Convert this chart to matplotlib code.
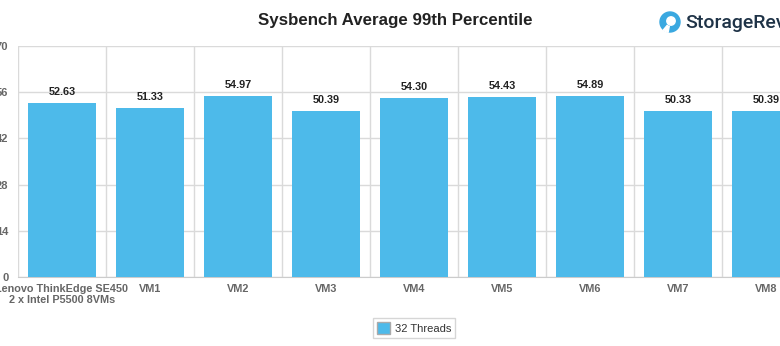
import matplotlib
matplotlib.use("Agg")
import matplotlib.pyplot as plt
import numpy as np
from matplotlib.patches import Circle, Patch, Wedge

plt.rcParams['font.family'] = ['Liberation Sans', 'DejaVu Sans']

categories = ["Lenovo ThinkEdge SE450\n2 x Intel P5500 8VMs", "VM1", "VM2", "VM3", "VM4",
              "VM5", "VM6", "VM7", "VM8"]
values = [52.63, 51.33, 54.97, 50.39, 54.30, 54.43, 54.89, 50.33, 50.39]
yticks = [0, 14, 28, 42, 56, 70]
series_name = "32 Threads"
title = "Sysbench Average 99th Percentile"

bar_color = "#4DBAEA"
grid_color = "#DADADA"
tick_color = "#666666"

fig = plt.figure(figsize=(7.8, 3.46), dpi=100)
ax = fig.add_axes([18/780, 69/346, 792/780, 231/346])

x = np.arange(len(categories))
ax.bar(x, values, width=0.77, color=bar_color, zorder=3)
for xi, v in zip(x, values):
    ax.text(xi, v + 1.8, f"{v:.2f}", ha="center", va="bottom", fontsize=7.8,
            fontweight="bold", color="#222222", zorder=4)

ax.set_xlim(-0.5, len(categories) - 0.5)
ax.set_ylim(0, 70)
ax.set_yticks(yticks)
ax.set_yticklabels([str(t) for t in yticks])
ax.set_xticks(x)
ax.set_xticklabels(categories, linespacing=1.1)
ax.set_xticks(np.arange(len(categories) + 1) - 0.5, minor=True)
ax.grid(axis="y", color=grid_color, linewidth=1, zorder=0)
ax.grid(axis="x", which="minor", color=grid_color, linewidth=1, zorder=0)
ax.tick_params(axis="both", which="both", length=0)
ax.tick_params(axis="y", pad=7, labelsize=8, labelcolor=tick_color)
ax.tick_params(axis="x", pad=5, labelsize=7.8, labelcolor=tick_color)
for lab in ax.get_yticklabels() + ax.get_xticklabels():
    lab.set_fontweight("bold")
for s in ["top", "right", "left"]:
    ax.spines[s].set_visible(False)
ax.spines["bottom"].set_color("#CCCCCC")

fig.text(395/780, 1 - 20/346, title, ha="center", va="center", fontsize=12.2,
         fontweight="bold", color="#222222")

# logo
logo_ax = fig.add_axes([0, 0, 1, 1], facecolor="none")
logo_ax.set_xlim(0, 780)
logo_ax.set_ylim(346, 0)
logo_ax.set_aspect("equal")
logo_ax.axis("off")
logo_ax.add_patch(Circle((670, 22), 10, color="#3AA8E0"))
logo_ax.add_patch(Circle((671, 21), 4.2, color="white"))
logo_ax.add_patch(Wedge((670, 22), 10.5, 100, 130, width=6, color="white"))
logo_ax.text(685, 23, "StorageReview", fontsize=14, color="#1F3347", va="center",
             ha="left", family=["Roboto", "DejaVu Sans"], fontweight="medium")

leg = fig.legend(handles=[Patch(facecolor=bar_color, edgecolor="#AAAAAA", label=series_name)],
                 loc="center", bbox_to_anchor=(414/780, 1 - 328/346), fontsize=8,
                 frameon=True, fancybox=False, edgecolor="#CCCCCC",
                 handlelength=1.2, handleheight=1.2, handletextpad=0.4,
                 borderpad=0.35)
for t in leg.get_texts():
    t.set_color("#333333")

fig.savefig("out.png", dpi=100)
